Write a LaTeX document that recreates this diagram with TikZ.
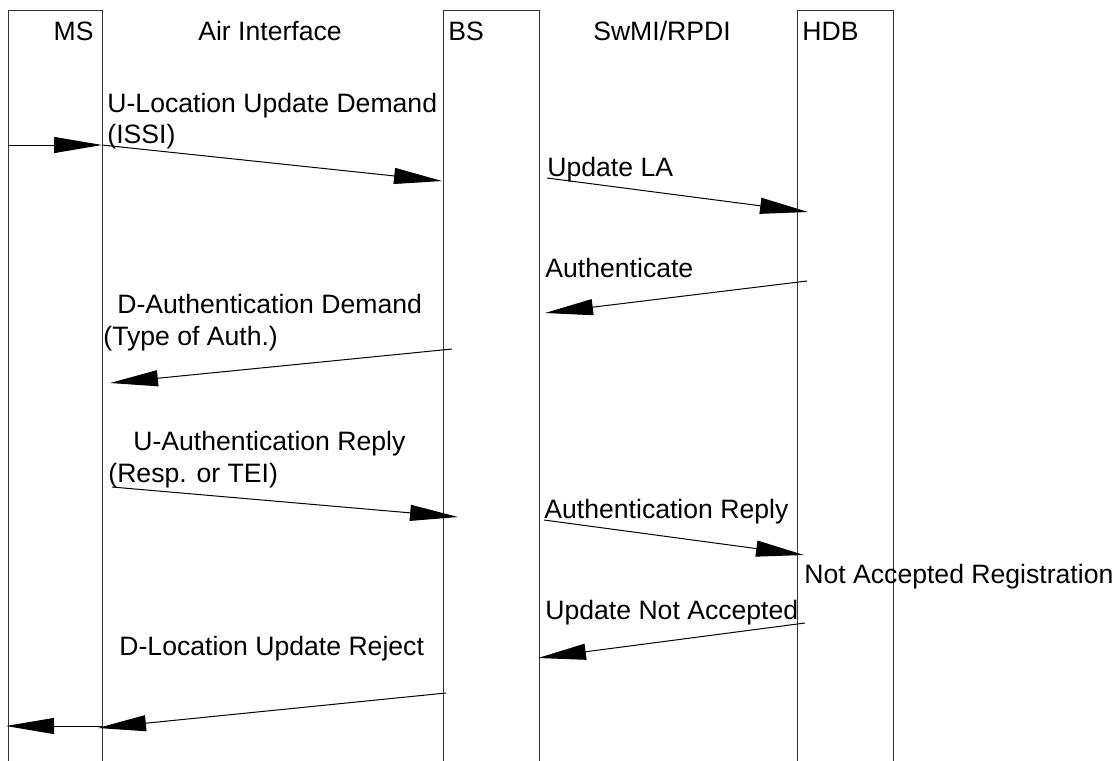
\documentclass[tikz,border=0pt]{standalone}
\usepackage{fontspec}
\setmainfont{Liberation Sans}
\usetikzlibrary{arrows.meta}

\begin{document}
\begin{tikzpicture}[x=0.5pt, y=-0.5pt,
      every node/.style={font=\fontsize{13.3pt}{16pt}\selectfont, inner sep=0pt},
      lane/.style={draw=black!80, line width=0.5pt, anchor=north west,
                   minimum height=400pt},
      lbl/.style={anchor=base west},
      msg/.style={line width=0.5pt, -{Triangle[length=24pt, width=8pt]}}]
    \useasboundingbox (0,0) rectangle (1118,760);
    \clip (0,0) rectangle (1118,760);
    % lifelines, open at the bottom
    \node[lane, minimum width=47pt] (ms) at (8,10) {};
    \node[lane, minimum width=48pt] (bs) at (443,10) {};
    \node[lane, minimum width=48pt] (hdb) at (797,10) {};
    \node[anchor=base east] (msname) at (94,40) {MS};
    \node[anchor=base] (air) at (270,40) {Air Interface};
    \node[lbl] (bsname) at (448,40) {BS};
    \node[anchor=base] (swmi) at (662,40) {SwMI/RPDI};
    \node[lbl] (hdbname) at (802,40) {HDB};

    % message ends
    \coordinate (ms0) at (8,145);
    \coordinate (ms1) at (102,145);
    \coordinate (bs1) at (442,181);
    \coordinate (bs2) at (547,178);
    \coordinate (hdb2) at (808,212);
    \coordinate (hdb3) at (807,281);
    \coordinate (bs3) at (545,313);
    \coordinate (bs4) at (452,349);
    \coordinate (ms4) at (110,383);
    \coordinate (ms5) at (112,487);
    \coordinate (bs5) at (458,517);
    \coordinate (bs6) at (544,520);
    \coordinate (hdb6) at (804,555);
    \coordinate (hdb7) at (805,623);
    \coordinate (bs7) at (538,658);
    \coordinate (bs8) at (446,693);
    \coordinate (ms8) at (98,728);
    \coordinate (ms9) at (102,726);
    \coordinate (ms10) at (6,726);

    \draw[msg] (ms0) -- (ms1);
    \draw[msg] (ms1) -- (bs1);
    \draw[msg] (bs2) -- (hdb2);
    \draw[msg] (hdb3) -- (bs3);
    \draw[msg] (bs4) -- (ms4);
    \draw[msg] (ms5) -- (bs5);
    \draw[msg] (bs6) -- (hdb6);
    \draw[msg] (hdb7) -- (bs7);
    \draw[msg] (bs8) -- (ms8);
    \draw[msg] (ms9) -- (ms10);

    % labels
    \node[lbl] (ulud) at (107,112) {U-Location Update Demand};
    \node[lbl] (issi) at (107,143) {(ISSI)};
    \node[lbl] (upla) at (547,176) {Update LA};
    \node[lbl] (auth) at (545,277) {Authenticate};
    \node[lbl] (dad) at (117,313) {D-Authentication Demand};
    \node[lbl] (type) at (103,345) {(Type of Auth.)};
    \node[lbl] (uar) at (133,450) {U-Authentication Reply};
    \node[lbl] (resp) at (108,482) {(Resp. or TEI)};
    \node[lbl] (arep) at (544,518) {Authentication Reply};
    \node[lbl] (nar) at (804,583) {Not Accepted Registration};
    \node[lbl] (una) at (545,619) {Update Not Accepted};
    \node[lbl] (dlur) at (119,655) {D-Location Update Reject};
  \end{tikzpicture}
\end{document}
